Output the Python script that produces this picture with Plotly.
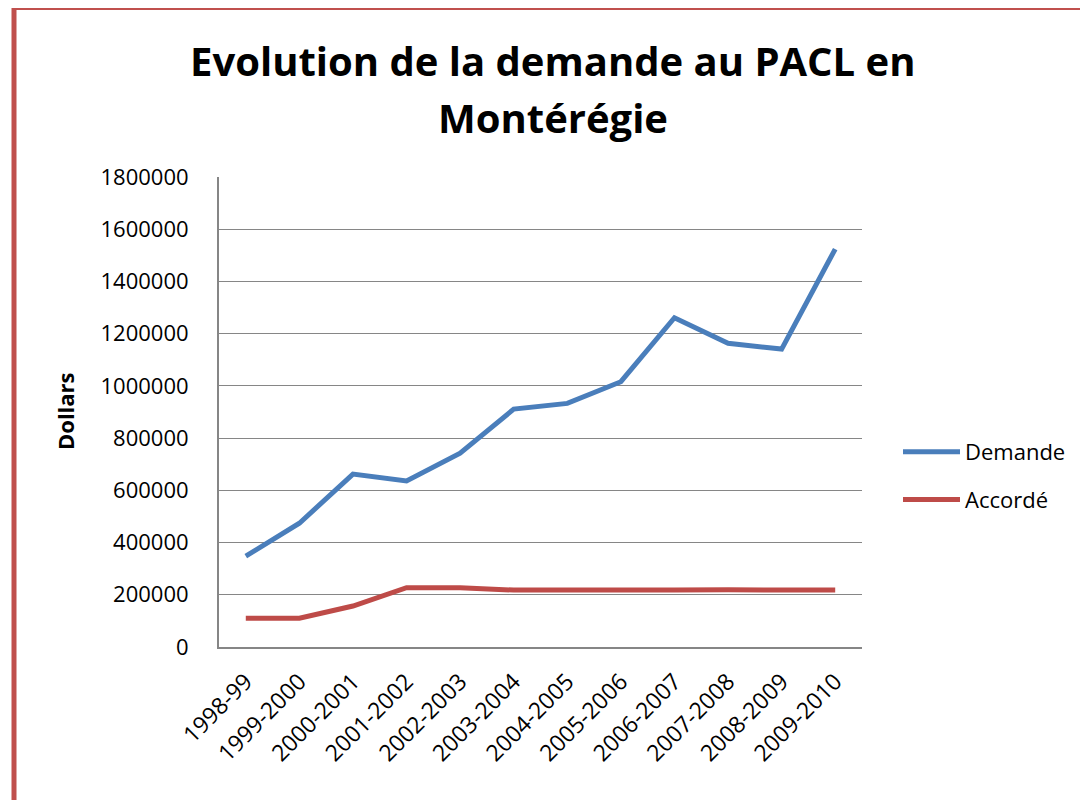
import plotly.graph_objects as go

categories = ["1998-99", "1999-2000", "2000-2001", "2001-2002", "2002-2003", "2003-2004",
              "2004-2005", "2005-2006", "2006-2007", "2007-2008", "2008-2009", "2009-2010"]
demande = [348000, 474000, 662000, 636000, 742000, 911000,
           933000, 1016000, 1261000, 1163000, 1141000, 1524000]
accorde = [110000, 110000, 157000, 227000, 227000, 218000,
           218000, 220000, 218000, 219000, 218000, 218000]
yticks = [0, 200000, 400000, 600000, 800000, 1000000, 1200000, 1400000, 1600000, 1800000]

FONT = "Open Sans"
fig = go.Figure()
fig.add_trace(go.Scatter(x=categories, y=demande, mode="lines", name="Demande",
                         line=dict(color="#4A7EBB", width=5), legendgroup="a"))
fig.add_trace(go.Scatter(x=categories, y=accorde, mode="lines", name="Accordé",
                         line=dict(color="#BE4B48", width=5), legendgroup="b"))

OFF = 8  # page body margin
L, R, T, B = 219 - OFF, 862 - OFF, 177 - OFF, 647 - OFF
W, H = 1088 - OFF, 800 - OFF
pw, ph = R - L, B - T
def px(x): return (x - OFF - L) / pw
def py(y): return (B - (y - OFF)) / ph

fig.update_layout(
    width=W, height=H, autosize=False,
    margin=dict(l=L, r=W - R, t=T, b=H - B, pad=0),
    paper_bgcolor="white", plot_bgcolor="white",
    font=dict(family=FONT, size=22, color="black"),
    showlegend=True,
    legend=dict(x=px(898), y=py(431), xanchor="left", yanchor="top",
                font=dict(size=22), itemwidth=57, tracegroupgap=16,
                bgcolor="rgba(0,0,0,0)"),
    xaxis=dict(type="category", range=[-0.5, 11.5], showgrid=False,
               showline=True, linecolor="#868686", linewidth=2,
               tickangle=-45, ticks="", ticklabelstandoff=10,
               tickfont=dict(size=23)),
    yaxis=dict(range=[0, 1800000], tickvals=yticks, ticktext=[str(v) for v in yticks],
               showgrid=True, gridcolor="#868686", gridwidth=1.3,
               showline=True, linecolor="#868686", linewidth=2,
               ticks="", ticklabelstandoff=24, zeroline=False,
               tickfont=dict(size=22)),
    shapes=[dict(type="rect", xref="paper", yref="paper",
                 x0=px(14), x1=px(1110), y0=py(7.5), y1=py(830),
                 line=dict(color="#C0504D", width=5), layer="below")],
    annotations=[
        dict(text="<b>Evolution de la demande au PACL en</b>", xref="paper", yref="paper",
             x=px(553), y=py(60), xanchor="center", yanchor="middle", showarrow=False,
             font=dict(family=FONT, size=40, color="black")),
        dict(text="<b>Montérégie</b>", xref="paper", yref="paper",
             x=px(553), y=py(117), xanchor="center", yanchor="middle", showarrow=False,
             font=dict(family=FONT, size=40, color="black")),
        dict(text="<b>Dollars</b>", xref="paper", yref="paper", textangle=-90,
             x=px(65), y=py(411), xanchor="center", yanchor="middle", showarrow=False,
             font=dict(family=FONT, size=22, color="black")),
    ],
)

fig.write_html("out.html")
